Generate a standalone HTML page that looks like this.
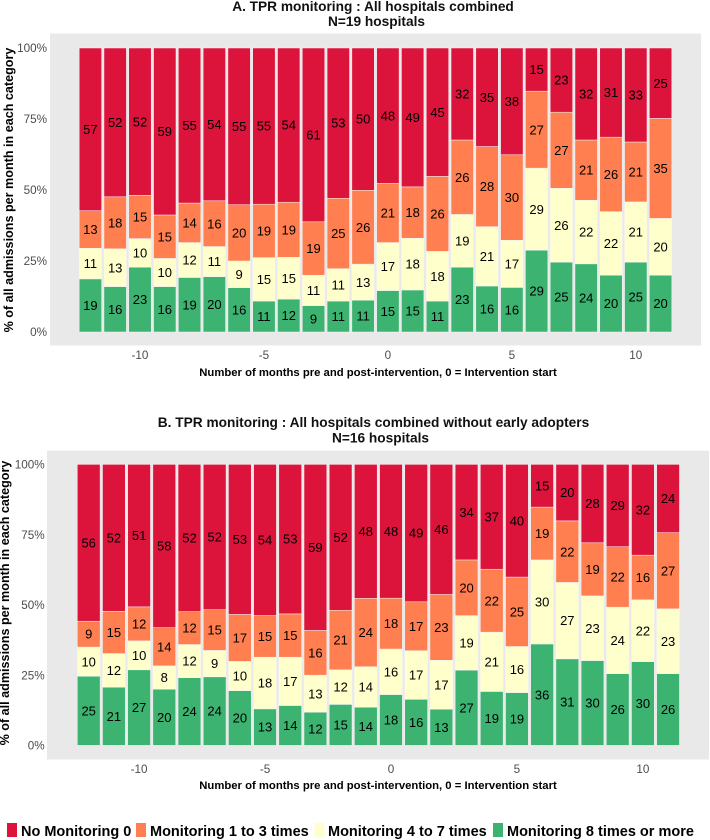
<!DOCTYPE html>
<html lang="en">
<head>
<meta charset="utf-8">
<title>TPR monitoring charts</title>
<style>
html,body{margin:0;padding:0;background:#fff;}
#chart{display:block;width:710px;height:840px;font-family:"Liberation Sans",sans-serif;}
.title{font-size:13.7px;font-weight:bold;fill:#111;text-anchor:middle;}
.axis-title{font-size:11.3px;font-weight:bold;fill:#000;text-anchor:middle;}
.y-title{font-size:12.6px;font-weight:bold;fill:#000;text-anchor:middle;}
.tick{font-size:11.7px;fill:#4d4d4d;}
.seg-label{font-size:13px;fill:#000;text-anchor:middle;}
.legend-text{font-size:14.5px;font-weight:bold;fill:#000;}
</style>
</head>
<body>
<svg id="chart" xmlns="http://www.w3.org/2000/svg" width="710" height="840" viewBox="0 0 710 840">
  <text class="title" x="373" y="11">A. TPR monitoring : All hospitals combined</text>
  <text class="title" x="376.5" y="26">N=19 hospitals</text>
  <rect x="50" y="33.5" width="651" height="312" fill="#e9e9e9"></rect>
  <g id="panelA"></g>
  <text class="y-title" transform="translate(13,190) rotate(-90)">% of all admissions per month in each category</text>
  <text class="axis-title" x="378" y="376">Number of months pre and post-intervention, 0 = Intervention start</text>

  <text class="title" x="373.5" y="427">B. TPR monitoring : All hospitals combined without early adopters</text>
  <text class="title" x="380.5" y="442.5">N=16 hospitals</text>
  <rect x="47" y="450.7" width="662" height="308.8" fill="#e9e9e9"></rect>
  <g id="panelB"></g>
  <text class="y-title" transform="translate(9,603) rotate(-90)">% of all admissions per month in each category</text>
  <text class="axis-title" x="378" y="789">Number of months pre and post-intervention, 0 = Intervention start</text>

  <g>
    <rect x="7" y="823" width="10" height="14" fill="#DC143C"></rect>
    <text class="legend-text" x="21" y="836">No Monitoring 0</text>
    <rect x="136" y="823" width="10" height="14" fill="#FF7F50"></rect>
    <text class="legend-text" x="150" y="836">Monitoring 1 to 3 times</text>
    <rect x="314.5" y="823" width="10" height="14" fill="#FFFFCC"></rect>
    <text class="legend-text" x="328" y="836">Monitoring 4 to 7 times</text>
    <rect x="493" y="823" width="10" height="14" fill="#3CB371"></rect>
    <text class="legend-text" x="507" y="836">Monitoring 8 times or more</text>
  </g>
</svg>
<script>
const months = [-12,-11,-10,-9,-8,-7,-6,-5,-4,-3,-2,-1,0,1,2,3,4,5,6,7,8,9,10,11];
const xTickValues = [-10,-5,0,5,10];
const yTickValues = [0,25,50,75,100];

const aGreen  = [18.7,16,22.8,16,19.2,19.5,15.6,10.9,11.6,9.3,10.9,11.2,14.6,14.8,10.9,22.8,16.2,15.7,28.8,24.6,24,20,24.6,20];
const aYellow = [10.8,13.3,10.1,9.9,12.3,10.6,9.4,15.3,14.7,10.7,11.4,12.7,16.9,18.2,17.5,18.6,20.9,16.6,28.9,26,22.4,22.4,21.2,20];
const aOrange = [13.2,18.3,15.2,15.3,13.9,16.1,19.8,18.8,19.4,18.8,24.8,26,20.8,18.1,26.4,26.2,28.2,30.1,27.1,26.8,21.2,26.2,21.1,35.2];
const aRed    = [57.3,52.4,51.9,58.8,54.6,53.8,55.2,55,54.3,61.2,52.9,50.1,47.7,48.9,45.2,32.4,34.7,37.6,15.2,22.6,32.4,31.4,33.1,24.8];

const bGreen  = [24.6,20.7,26.9,20,24.1,24.4,19.5,13,14.2,11.8,14.6,13.6,18.1,16.4,12.9,26.8,19.2,18.8,36.1,30.8,30.2,25.5,29.8,25.5];
const bYellow = [10.4,12,10.3,8.3,11.8,9.4,10.4,18.4,17.2,13.2,12.3,14.4,16.2,17.3,17.4,19.4,21.1,16.4,29.9,27.2,23,23.7,22,23.1];
const bOrange = [9.2,15,12.1,13.6,11.7,14.5,16.7,14.8,15.4,15.9,21.2,24.3,18.1,17.4,23.4,19.8,22.4,24.7,18.8,21.9,18.9,21.5,15.9,27.1];
const bRed    = [55.8,52.3,50.7,58.1,52.4,51.7,53.4,53.8,53.2,59.1,51.9,47.7,47.6,48.9,46.3,34,37.3,40.1,15.2,20.1,27.9,29.3,32.3,24.3];

const seriesNames = ['green','yellow','orange','red'];
const seriesColors = ['#3CB371','#FFFFCC','#FF7F50','#DC143C'];

const SVG_NS = 'http://www.w3.org/2000/svg';

function drawPanel(root, prefix, series, geom) {
  const xScale = function (m) { return geom.x0 + (m - months[0]) * geom.step; };
  const yScale = function (v) { return geom.yBase - v * geom.yUnit; };
  const barWidth = geom.step * 0.905;

  months.forEach(function (m, i) {
    let cum = 0;
    series.forEach(function (values, s) {
      const v = values[i];
      const rect = document.createElementNS(SVG_NS, 'rect');
      rect.setAttribute('x', xScale(m) - barWidth / 2);
      rect.setAttribute('y', yScale(cum + v));
      rect.setAttribute('width', barWidth);
      rect.setAttribute('height', yScale(cum) - yScale(cum + v));
      rect.setAttribute('fill', seriesColors[s]);
      rect.setAttribute('stroke', '#f4f4f4');
      rect.setAttribute('stroke-width', '0.5');
      
      
      root.appendChild(rect);

      const label = document.createElementNS(SVG_NS, 'text');
      label.setAttribute('class', 'seg-label');
      label.setAttribute('x', xScale(m));
      label.setAttribute('y', yScale(cum + v / 2) + 4.6);
      label.textContent = String(Math.round(v));
      
      
      root.appendChild(label);
      cum += v;
    });
  });

  yTickValues.forEach(function (t) {
    const tick = document.createElementNS(SVG_NS, 'text');
    tick.setAttribute('class', 'tick');
    tick.setAttribute('text-anchor', 'end');
    tick.setAttribute('x', geom.yTickX);
    tick.setAttribute('y', yScale(t) + 4.2);
    tick.textContent = t + '%';
    
    
    root.appendChild(tick);
  });

  xTickValues.forEach(function (t) {
    const tick = document.createElementNS(SVG_NS, 'text');
    tick.setAttribute('class', 'tick');
    tick.setAttribute('text-anchor', 'middle');
    tick.setAttribute('x', xScale(t));
    tick.setAttribute('y', geom.xTickY);
    tick.textContent = String(t);
    
    
    root.appendChild(tick);
  });
}

drawPanel(document.getElementById('panelA'), 'panel-a', [aGreen, aYellow, aOrange, aRed],
  { x0: 90.4, step: 24.79, yBase: 332, yUnit: 2.84, yTickX: 47, xTickY: 359 });
drawPanel(document.getElementById('panelB'), 'panel-b', [bGreen, bYellow, bOrange, bRed],
  { x0: 88.7, step: 25.19, yBase: 745.4, yUnit: 2.81, yTickX: 44.7, xTickY: 773 });
</script>
</body>
</html>
